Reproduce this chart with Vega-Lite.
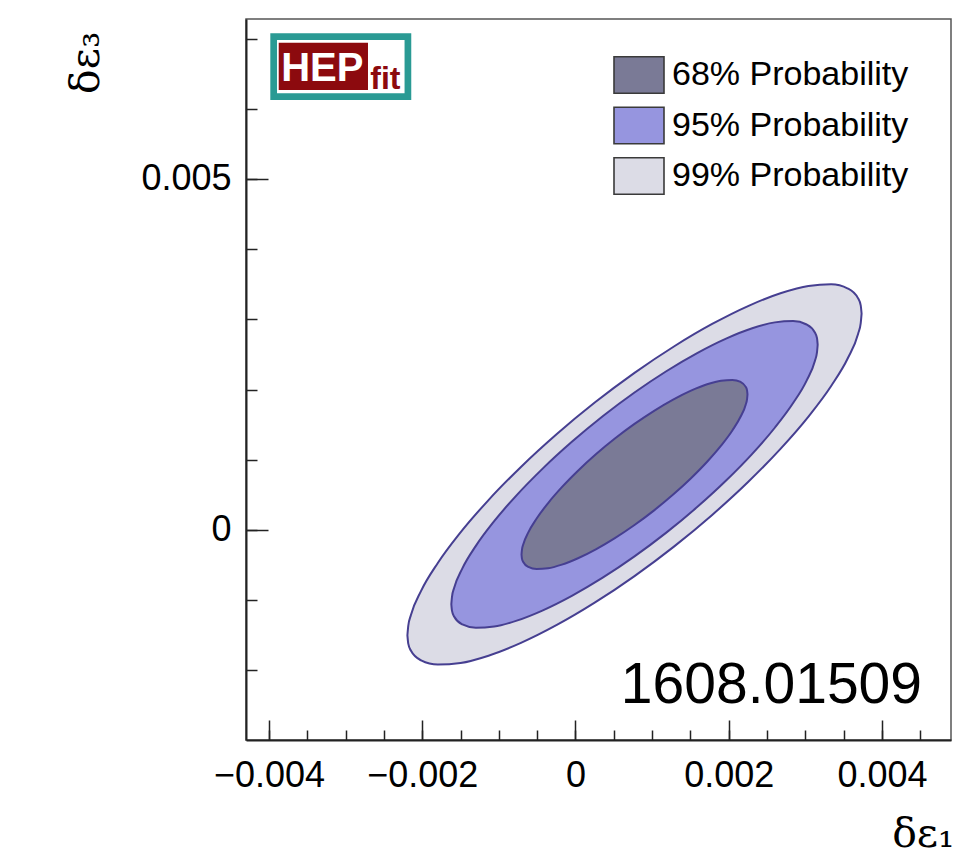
{
  "$schema": "https://vega.github.io/schema/vega-lite/v6.json",
  "width": 705,
  "height": 721,
  "autosize": "none",
  "padding": {"left": 246, "top": 19, "right": 7, "bottom": 128},
  "background": "white",
  "config": {
    "view": {"stroke": "#555555", "strokeWidth": 1.5},
    "axis": {
      "labelFont": "Liberation Sans", "labelFontSize": 36, "labelColor": "black",
      "titleFont": "DejaVu Serif", "titleFontSize": 41, "titleFontWeight": "normal", "titleColor": "black",
      "domainColor": "#222222", "domainWidth": 2, "tickColor": "#222222", "tickWidth": 1.5, "grid": false
    }
  },
  "datasets": {
    "ellipses": [
      {"level": "99% Probability", "x": 0.0037337, "lo": 0.0030827, "hi": 0.0030827},
      {"level": "99% Probability", "x": 0.0037224, "lo": 0.0029478, "hi": 0.0032002},
      {"level": "99% Probability", "x": 0.0036886, "lo": 0.0027966, "hi": 0.0032992},
      {"level": "99% Probability", "x": 0.0035550, "lo": 0.0024495, "hi": 0.0034395},
      {"level": "99% Probability", "x": 0.0033366, "lo": 0.0020519, "hi": 0.0034993},
      {"level": "99% Probability", "x": 0.0030402, "lo": 0.0016160, "hi": 0.0034768},
      {"level": "99% Probability", "x": 0.0026751, "lo": 0.0011554, "hi": 0.0033728},
      {"level": "99% Probability", "x": 0.0022519, "lo": 0.0006835, "hi": 0.0031903},
      {"level": "99% Probability", "x": 0.0017836, "lo": 0.0002147, "hi": 0.0029349},
      {"level": "99% Probability", "x": 0.0012845, "lo": -0.0002366, "hi": 0.0026142},
      {"level": "99% Probability", "x": 0.0007700, "lo": -0.0006564, "hi": 0.0022384},
      {"level": "99% Probability", "x": 0.0002555, "lo": -0.0010322, "hi": 0.0018186},
      {"level": "99% Probability", "x": -0.0002436, "lo": -0.0013529, "hi": 0.0013673},
      {"level": "99% Probability", "x": -0.0007119, "lo": -0.0016083, "hi": 0.0008985},
      {"level": "99% Probability", "x": -0.0011351, "lo": -0.0017908, "hi": 0.0004266},
      {"level": "99% Probability", "x": -0.0015002, "lo": -0.0018948, "hi": -0.0000340},
      {"level": "99% Probability", "x": -0.0017966, "lo": -0.0019173, "hi": -0.0004699},
      {"level": "99% Probability", "x": -0.0020150, "lo": -0.0018575, "hi": -0.0008675},
      {"level": "99% Probability", "x": -0.0021487, "lo": -0.0017172, "hi": -0.0012146},
      {"level": "99% Probability", "x": -0.0021824, "lo": -0.0016182, "hi": -0.0013658},
      {"level": "99% Probability", "x": -0.0021937, "lo": -0.0015007, "hi": -0.0015007},

      {"level": "95% Probability", "x": 0.0031605, "lo": 0.0026395, "hi": 0.0026395},
      {"level": "95% Probability", "x": 0.0031514, "lo": 0.0025307, "hi": 0.0027343},
      {"level": "95% Probability", "x": 0.0031242, "lo": 0.0024087, "hi": 0.0028141},
      {"level": "95% Probability", "x": 0.0030164, "lo": 0.0021287, "hi": 0.0029273},
      {"level": "95% Probability", "x": 0.0028402, "lo": 0.0018080, "hi": 0.0029756},
      {"level": "95% Probability", "x": 0.0026011, "lo": 0.0014565, "hi": 0.0029575},
      {"level": "95% Probability", "x": 0.0023066, "lo": 0.0010849, "hi": 0.0028735},
      {"level": "95% Probability", "x": 0.0019653, "lo": 0.0007042, "hi": 0.0027264},
      {"level": "95% Probability", "x": 0.0015876, "lo": 0.0003261, "hi": 0.0025203},
      {"level": "95% Probability", "x": 0.0011850, "lo": -0.0000379, "hi": 0.0022617},
      {"level": "95% Probability", "x": 0.0007700, "lo": -0.0003765, "hi": 0.0019585},
      {"level": "95% Probability", "x": 0.0003550, "lo": -0.0006797, "hi": 0.0016199},
      {"level": "95% Probability", "x": -0.0000476, "lo": -0.0009383, "hi": 0.0012559},
      {"level": "95% Probability", "x": -0.0004253, "lo": -0.0011444, "hi": 0.0008778},
      {"level": "95% Probability", "x": -0.0007666, "lo": -0.0012915, "hi": 0.0004971},
      {"level": "95% Probability", "x": -0.0010611, "lo": -0.0013755, "hi": 0.0001255},
      {"level": "95% Probability", "x": -0.0013002, "lo": -0.0013936, "hi": -0.0002260},
      {"level": "95% Probability", "x": -0.0014764, "lo": -0.0013453, "hi": -0.0005467},
      {"level": "95% Probability", "x": -0.0015842, "lo": -0.0012321, "hi": -0.0008267},
      {"level": "95% Probability", "x": -0.0016114, "lo": -0.0011523, "hi": -0.0009487},
      {"level": "95% Probability", "x": -0.0016205, "lo": -0.0010575, "hi": -0.0010575},

      {"level": "68% Probability", "x": 0.0022445, "lo": 0.0019312, "hi": 0.0019312},
      {"level": "68% Probability", "x": 0.0022389, "lo": 0.0018641, "hi": 0.0019897},
      {"level": "68% Probability", "x": 0.0022221, "lo": 0.0017889, "hi": 0.0020389},
      {"level": "68% Probability", "x": 0.0021556, "lo": 0.0016161, "hi": 0.0021087},
      {"level": "68% Probability", "x": 0.0020469, "lo": 0.0014183, "hi": 0.0021385},
      {"level": "68% Probability", "x": 0.0018995, "lo": 0.0012015, "hi": 0.0021273},
      {"level": "68% Probability", "x": 0.0017178, "lo": 0.0009723, "hi": 0.0020755},
      {"level": "68% Probability", "x": 0.0015073, "lo": 0.0007375, "hi": 0.0019847},
      {"level": "68% Probability", "x": 0.0012743, "lo": 0.0005042, "hi": 0.0018576},
      {"level": "68% Probability", "x": 0.0010260, "lo": 0.0002797, "hi": 0.0016981},
      {"level": "68% Probability", "x": 0.0007700, "lo": 0.0000709, "hi": 0.0015111},
      {"level": "68% Probability", "x": 0.0005140, "lo": -0.0001161, "hi": 0.0013023},
      {"level": "68% Probability", "x": 0.0002657, "lo": -0.0002756, "hi": 0.0010778},
      {"level": "68% Probability", "x": 0.0000327, "lo": -0.0004027, "hi": 0.0008445},
      {"level": "68% Probability", "x": -0.0001778, "lo": -0.0004935, "hi": 0.0006097},
      {"level": "68% Probability", "x": -0.0003595, "lo": -0.0005453, "hi": 0.0003805},
      {"level": "68% Probability", "x": -0.0005069, "lo": -0.0005565, "hi": 0.0001637},
      {"level": "68% Probability", "x": -0.0006156, "lo": -0.0005267, "hi": -0.0000341},
      {"level": "68% Probability", "x": -0.0006821, "lo": -0.0004569, "hi": -0.0002069},
      {"level": "68% Probability", "x": -0.0006989, "lo": -0.0004077, "hi": -0.0002821},
      {"level": "68% Probability", "x": -0.0007045, "lo": -0.0003492, "hi": -0.0003492}
    ]
  },
  "layer": [
    {
      "data": {"name": "ellipses"},
      "transform": [{"filter": "datum.level === '99% Probability'"}],
      "mark": {"type": "area", "interpolate": "monotone", "stroke": "#463f91", "strokeWidth": 2, "fillOpacity": 1},
      "encoding": {
        "x": {
          "field": "x", "type": "quantitative",
          "scale": {"domain": [-0.0043, 0.0049005], "nice": false, "zero": false},
          "axis": {
            "orient": "bottom", "values": [-0.004, -0.002, 0, 0.002, 0.004],
            "tickSize": -20, "labelPadding": 38, "labelExpr": "format(datum.value, '~g')",
            "labelFlush": false, "labelOverlap": false, "labelBaseline": "top",
            "title": "δε₁", "titleX": 708, "titleY": 106, "titleAlign": "right", "titleBaseline": "alphabetic"
          }
        },
        "y": {
          "field": "lo", "type": "quantitative",
          "scale": {"domain": [-0.0029915, 0.0072792], "nice": false, "zero": false},
          "axis": {
            "orient": "left", "values": [0, 0.005],
            "tickSize": -22, "labelPadding": 37, "labelExpr": "format(datum.value, '~g')",
            "labelFlush": false, "labelOverlap": false, "labelAlign": "right", "labelBaseline": "middle",
            "title": "δε₃", "titleAngle": -90, "titleX": -148, "titleY": 12, "titleAlign": "right", "titleBaseline": "alphabetic"
          }
        },
        "y2": {"field": "hi"},
        "fill": {
          "field": "level", "type": "nominal",
          "scale": {"domain": ["68% Probability", "95% Probability", "99% Probability"], "range": ["#7a7a96", "#9695df", "#dcdce6"]},
          "legend": {
            "orient": "none", "legendX": 367, "legendY": 30, "title": null,
            "symbolType": "M-1,-0.732L1,-0.732L1,0.732L-1,0.732Z", "symbolSize": 2500,
            "symbolStrokeColor": "#333333", "symbolStrokeWidth": 1.5, "symbolOpacity": 1,
            "labelFont": "Liberation Sans", "labelFontSize": 34, "labelColor": "black",
            "labelOffset": 7, "rowPadding": 2.5, "padding": 0, "labelLimit": 500,
            "encode": {"symbols": {"update": {"stroke": {"value": "#3a3a3a"}, "strokeWidth": {"value": 1.6}}}}
          }
        }
      }
    },
    {
      "data": {"name": "ellipses"},
      "transform": [{"filter": "datum.level === '95% Probability'"}],
      "mark": {"type": "area", "interpolate": "monotone", "stroke": "#463f91", "strokeWidth": 2, "fillOpacity": 1},
      "encoding": {
        "x": {
          "field": "x", "type": "quantitative",
          "axis": {
            "orient": "bottom",
            "values": [-0.004, -0.0035, -0.003, -0.0025, -0.002, -0.0015, -0.001, -0.0005, 0, 0.0005, 0.001, 0.0015, 0.002, 0.0025, 0.003, 0.0035, 0.004, 0.0045],
            "tickSize": -10, "labels": false, "domain": false, "title": null
          }
        },
        "y": {
          "field": "lo", "type": "quantitative",
          "axis": {
            "orient": "left",
            "values": [-0.002, -0.001, 0, 0.001, 0.002, 0.003, 0.004, 0.005, 0.006, 0.007],
            "tickSize": -11, "labels": false, "domain": false, "title": null
          }
        },
        "y2": {"field": "hi"},
        "fill": {"field": "level", "type": "nominal"}
      }
    },
    {
      "data": {"name": "ellipses"},
      "transform": [{"filter": "datum.level === '68% Probability'"}],
      "mark": {"type": "area", "interpolate": "monotone", "stroke": "#463f91", "strokeWidth": 2, "fillOpacity": 1},
      "encoding": {
        "x": {"field": "x", "type": "quantitative", "axis": null},
        "y": {"field": "lo", "type": "quantitative", "axis": null},
        "y2": {"field": "hi"},
        "fill": {"field": "level", "type": "nominal"}
      }
    },
    {
      "data": {"values": [{}]},
      "mark": {"type": "rect", "fill": "white", "stroke": "#2a9a94", "strokeWidth": 6.7},
      "encoding": {
        "x": {"datum": -0.003939, "type": "quantitative", "axis": null},
        "x2": {"datum": -0.002187},
        "y": {"datum": 0.007028, "type": "quantitative", "axis": null},
        "y2": {"datum": 0.006173}
      }
    },
    {
      "data": {"values": [{}]},
      "mark": {"type": "rect", "fill": "#8c0a0e"},
      "encoding": {
        "x": {"datum": -0.003873, "type": "quantitative", "axis": null},
        "x2": {"datum": -0.002708},
        "y": {"datum": 0.006942, "type": "quantitative", "axis": null},
        "y2": {"datum": 0.006268}
      }
    },
    {
      "data": {"values": [{}]},
      "mark": {"type": "text", "font": "Liberation Sans", "fontWeight": "bold", "fontSize": 40, "color": "white", "align": "center", "baseline": "alphabetic"},
      "encoding": {
        "x": {"datum": -0.003304, "type": "quantitative", "axis": null},
        "y": {"datum": 0.006396, "type": "quantitative", "axis": null},
        "text": {"value": "HEP"}
      }
    },
    {
      "data": {"values": [{}]},
      "mark": {"type": "text", "font": "Liberation Sans", "fontWeight": "bold", "fontSize": 32, "color": "#8c0a0e", "align": "left", "baseline": "alphabetic"},
      "encoding": {
        "x": {"datum": -0.002678, "type": "quantitative", "axis": null},
        "y": {"datum": 0.006286, "type": "quantitative", "axis": null},
        "text": {"value": "fit"}
      }
    },
    {
      "data": {"values": [{}]},
      "mark": {"type": "text", "font": "Liberation Sans", "fontSize": 57, "color": "black", "align": "right", "baseline": "alphabetic"},
      "encoding": {
        "x": {"datum": 0.004522, "type": "quantitative", "axis": null},
        "y": {"datum": -0.002464, "type": "quantitative", "axis": null},
        "text": {"value": "1608.01509"}
      }
    }
  ],
  "resolve": {"axis": {"x": "independent", "y": "independent"}}
}
